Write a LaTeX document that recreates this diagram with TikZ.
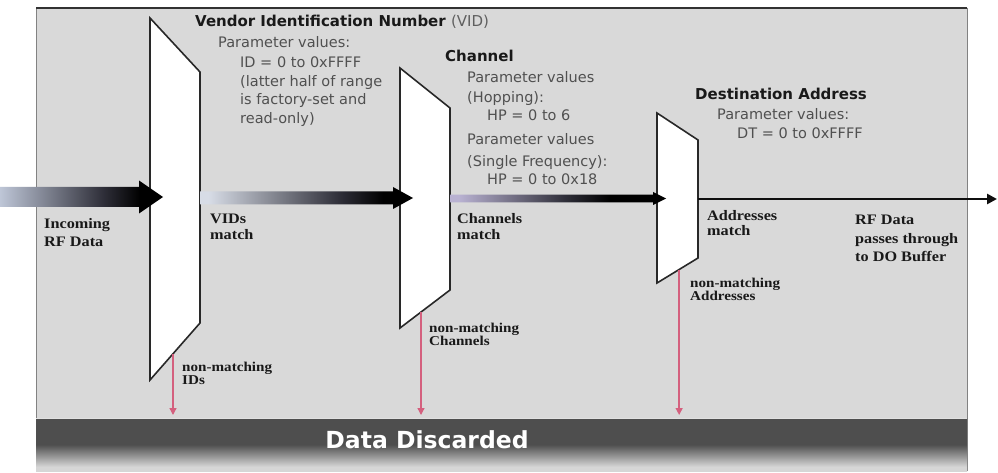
\documentclass[tikz,border=0pt]{standalone}
\usepackage{fontspec}
\setmainfont{DejaVu Sans}
\newfontfamily\lblfont[FakeStretch=1.12]{Liberation Serif}
\usetikzlibrary{arrows.meta,calc}
\definecolor{panel}{RGB}{217,217,217}
\definecolor{panelline}{RGB}{130,130,130}
\definecolor{topline}{RGB}{50,50,50}
\definecolor{bandsep}{RGB}{225,225,225}
\definecolor{filterline}{RGB}{40,40,40}
\definecolor{passcol}{RGB}{15,15,15}
\definecolor{banddark}{RGB}{78,78,78}
\definecolor{bandlight}{RGB}{214,214,214}
\definecolor{pinkarr}{RGB}{212,96,126}
\definecolor{paramgray}{RGB}{80,80,80}
\definecolor{titleblack}{RGB}{25,25,25}
\definecolor{vidgray}{RGB}{95,95,95}
\definecolor{aA}{RGB}{190,198,215}
\definecolor{aB}{RGB}{215,220,230}
\definecolor{aC}{RGB}{185,178,210}
\definecolor{adark}{RGB}{45,45,55}
\pgfdeclareverticalshading{bandshade}{100bp}{color(0bp)=(bandlight); color(29bp)=(bandlight); color(50bp)=(banddark); color(100bp)=(banddark)}
\pgfdeclarehorizontalshading{arrA}{100bp}{color(0bp)=(aA); color(25bp)=(aA); color(57bp)=(adark); color(68bp)=(black); color(100bp)=(black)}
\pgfdeclarehorizontalshading{arrB}{100bp}{color(0bp)=(aB); color(27bp)=(aB); color(58bp)=(adark); color(68bp)=(black); color(100bp)=(black)}
\pgfdeclarehorizontalshading{arrC}{100bp}{color(0bp)=(aC); color(27bp)=(aC); color(52bp)=(adark); color(62bp)=(black); color(100bp)=(black)}
\newcommand\vl[1]{\vtop{\halign{##\hfil\cr#1\crcr}}}
\newcommand\gradarrow[6]{\path[#6] ($(#1)+(0,-#3)$) -- ($(#2)+(-#5,-#3)$) -- ($(#2)+(-#5,-#4)$) -- (#2) -- ($(#2)+(-#5,#4)$) -- ($(#2)+(-#5,#3)$) -- ($(#1)+(0,#3)$) -- cycle;}
\tikzset{
  filterbox/.style={fill=white, draw=filterline, line width=1.6pt, line join=miter},
  titletext/.style={anchor=base west, inner sep=0pt, text=titleblack, font=\fontsize{15}{18}\selectfont\bfseries},
  paramtext/.style={anchor=base west, inner sep=0pt, text=paramgray, font=\fontsize{14.5}{#1}\selectfont},
  paramtext/.default=18.5,
  lbltext/.style={anchor=base west, inner sep=0pt, text=titleblack, font=\lblfont\fontsize{14.5}{#1}\selectfont\bfseries},
  lbltext/.default=17,
  nmtext/.style={anchor=base west, inner sep=0pt, text=titleblack, font=\lblfont\fontsize{13.5}{13}\selectfont\bfseries},
  discardarrow/.style={draw=pinkarr, line width=1.3pt, -{Triangle[length=7pt,width=7pt]}},
  passarrow/.style={draw=passcol, line width=2.6pt, -{Triangle[length=10pt,width=10pt]}}
}
\begin{document}
\begin{tikzpicture}[x=1pt,y=-1pt]
\useasboundingbox (0,0) rectangle (998,473);
\fill[white] (0,0) rectangle (998,473);
% panel
\fill[panel] (36,8) rectangle (967,471);
\draw[panelline, line width=0.8pt] (36,471) -- (36,8) (967,8) -- (967,471);
\draw[topline, line width=1.2pt] (36,8) -- (967,8);
% band
\path[shading=bandshade] (36,418) rectangle (967,471);
\draw[bandsep, line width=0.8pt] (36,418) -- (967,418);
\node[text=white, font=\fontsize{23.5}{28}\selectfont\bfseries, inner sep=0pt] (discard) at (427,440) {Data Discarded};
% filter corners
\coordinate (f1tl) at (150,18); \coordinate (f1tr) at (200,72); \coordinate (f1br) at (200,323); \coordinate (f1bl) at (150,380);
\coordinate (f2tl) at (400,68); \coordinate (f2tr) at (450,108); \coordinate (f2br) at (450,290); \coordinate (f2bl) at (400,328);
\coordinate (f3tl) at (657,113); \coordinate (f3tr) at (698,140); \coordinate (f3br) at (698,258); \coordinate (f3bl) at (657,283);
\draw[filterbox] (f1tl) -- (f1tr) -- (f1br) -- (f1bl) -- cycle;
\draw[filterbox] (f2tl) -- (f2tr) -- (f2br) -- (f2bl) -- cycle;
\draw[filterbox] (f3tl) -- (f3tr) -- (f3br) -- (f3bl) -- cycle;
% arrow anchors
\coordinate (inA) at (0,197);
\coordinate (tipA) at (163,197);
\coordinate (inB) at (200,198);
\coordinate (tipB) at (413,198);
\coordinate (inC) at (450,198.5);
\coordinate (tipC) at (666,198.5);
\coordinate (inD) at (698,199);
\coordinate (tipD) at (997,199);
\gradarrow{inA}{tipA}{10}{16.5}{24}{shading=arrA}
\gradarrow{inB}{tipB}{6.5}{11}{20}{shading=arrB}
\gradarrow{inC}{tipC}{3.8}{6.5}{13}{shading=arrC}
\draw[passarrow] (inD) -- (tipD);
% discard arrows
\coordinate (d1s) at ($(f1br)!0.54!(f1bl)$);
\coordinate (d2s) at ($(f2br)!0.58!(f2bl)$);
\coordinate (d3s) at ($(f3br)!0.46!(f3bl)$);
\coordinate (d1e) at (d1s |- 0,415);
\coordinate (d2e) at (d2s |- 0,415);
\coordinate (d3e) at (d3s |- 0,415);
\draw[discardarrow] (d1s) -- (d1e);
\draw[discardarrow] (d2s) -- (d2e);
\draw[discardarrow] (d3s) -- (d3e);
% VID text
\node[titletext] (vidtitle) at (195,27) {Vendor Identification Number {\mdseries\color{vidgray}(VID)}};
\node[paramtext] (vidparam) at (218,48) {Parameter values:};
\node[paramtext=18.5] (vidvals) at (240,68) {\vl{ID = 0 to 0xFFFF\cr (latter half of range\cr is factory-set and\cr read-only)}};
% Channel text
\node[titletext] (chtitle) at (445,62) {Channel};
\node[paramtext=20] (chp1) at (467,83) {\vl{Parameter values\cr (Hopping):}};
\node[paramtext] (chv1) at (487,121) {HP = 0 to 6};
\node[paramtext=21.5] (chp2) at (467,145) {\vl{Parameter values\cr (Single Frequency):}};
\node[paramtext] (chv2) at (487,185) {HP = 0 to 0x18};
% Destination text
\node[titletext] (dttitle) at (695,100) {Destination Address};
\node[paramtext] (dtparam) at (717,120) {Parameter values:};
\node[paramtext] (dtvals) at (737,139) {DT = 0 to 0xFFFF};
% labels
\node[lbltext=18] (incoming) at (44,228) {\vl{Incoming\cr RF Data}};
\node[lbltext=16] (vidsmatch) at (210,223) {\vl{VIDs\cr match}};
\node[lbltext=16.5] (chmatch) at (457,223) {\vl{Channels\cr match}};
\node[lbltext=15] (admatch) at (707,220) {\vl{Addresses\cr match}};
\node[lbltext=18] (rfpass) at (855,225) {\vl{RF Data\cr passes through\cr to DO Buffer}};
\node[nmtext] (nmids) at (182,371) {\vl{non-matching\cr IDs}};
\node[nmtext] (nmch) at (429,332) {\vl{non-matching\cr Channels}};
\node[nmtext] (nmad) at (690,287) {\vl{non-matching\cr Addresses}};
\end{tikzpicture}
\end{document}
